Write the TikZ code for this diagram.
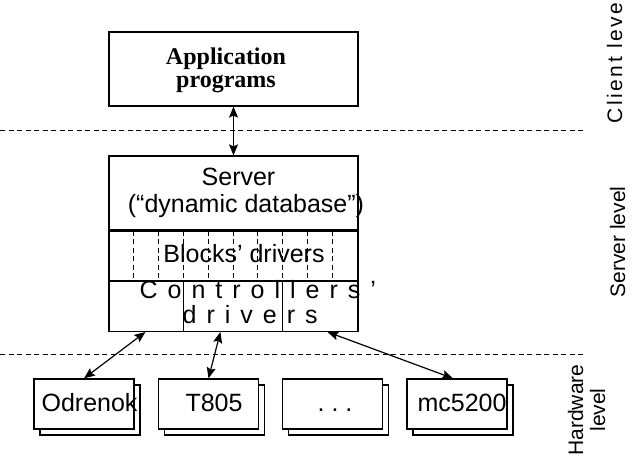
\documentclass[tikz,border=0pt]{standalone}
\usepackage{fontspec}
\setmainfont{Liberation Serif}
\newfontfamily\arialfont{Liberation Sans}
\usetikzlibrary{arrows.meta, positioning, shadows}

\tikzset{
    box/.style={draw, fill=white, inner sep=0pt},
    hwbox/.style={box, minimum width=100pt, minimum height=50pt,
        copy shadow={shadow xshift=6pt, shadow yshift=-6pt}},
    txt/.style={font=\arialfont\fontsize{25}{27}\selectfont, inner sep=0pt},
    wide/.style={font=\arialfont\fontsize{25}{27}\selectfont\addfontfeature{LetterSpace=40}, inner sep=0pt},
    lvl/.style={font=\arialfont\fontsize{21}{22}\selectfont, inner sep=0pt, rotate=90},
    sep/.style={dash pattern=on 5pt off 3.5pt},
}

\begin{document}
\begin{tikzpicture}[x=1pt, y=-1pt, >={Stealth[length=11pt, width=9pt, inset=2pt]}, line width=1.2pt]
    \useasboundingbox (0,0) rectangle (635,460);

    % Levels
    \draw[sep, line width=1pt] (0,130) -- (583,130);
    \draw[sep, line width=1pt] (0,354) -- (583,354);
    \node[lvl, anchor=base west, font=\arialfont\fontsize{21}{22}\selectfont\addfontfeature{LetterSpace=12}] (CLV) at (622,124) {Client level};
    \node[lvl, anchor=base] (SLV) at (625,242) {Server level};
    \node[lvl, anchor=base, align=center] (HLV) at (605,410) {Hardware\\level};

    % Nodes
    \node[box, minimum width=249pt, minimum height=74pt] (APP) at (233.5,69) {};
    \node[align=center, inner sep=0pt, font=\bfseries\fontsize{24}{23}\selectfont] (APPT) at (226,70) {Application\\programs};

    \node[box, minimum width=249pt, minimum height=74pt] (SRV) at (233.5,193) {};
    \node[box, minimum width=249pt, minimum height=49pt, below=0pt of SRV] (BLK) {};
    \node[box, minimum width=249pt, minimum height=50pt, below=0pt of BLK] (CTL) {};
    \foreach \i in {0,...,8}
        \draw[sep, line width=0.8pt] ([xshift={25.3+24.8*\i}]BLK.north west) -- ([xshift={25.3+24.8*\i}]BLK.south west);
    \draw ([xshift=75pt]CTL.north west) -- ([xshift=75pt]CTL.south west);
    \draw ([xshift=174pt]CTL.north west) -- ([xshift=174pt]CTL.south west);

    \node[txt, anchor=base] (SRVA) at (238.5,185) {Server};
    \node[txt, anchor=base] (SRVB) at (246,212) {(“dynamic database”)};
    \node[txt, anchor=base] (BLKT) at (244,262) {Blocks’ drivers};
    \node[wide, anchor=base west] (CTLA) at (139,298) {Controllers’};
    \node[wide, anchor=base west] (CTLB) at (182,323) {drivers};

    \node[hwbox] (ODR) at (84,404) {};
    \node[hwbox] (T8) at (208.5,404) {};
    \node[hwbox] (DOTS) at (332.5,404) {};
    \node[hwbox] (MC) at (457,404) {};
    \node[txt, anchor=base west] (ODRT) at (41,411) {Odrenok};
    \node[txt, anchor=base] (T8T) at (214,411) {T805};
    \node[txt, anchor=base] (DOTST) at (335,411) {.\ .\ .};
    \node[txt, anchor=base west] (MCT) at (417,411) {mc5200};

    % Paths
    \draw[<->] (APP.south) -- (SRV.north);
    \draw[<->] (ODR.north) -- ([xshift=37pt]CTL.south west);
    \draw[<->] (T8.north) -- ([xshift=112pt]CTL.south west);
    \draw[<->] ([xshift=-4pt]MC.north) -- ([xshift=-31pt]CTL.south east);
\end{tikzpicture}
\end{document}
